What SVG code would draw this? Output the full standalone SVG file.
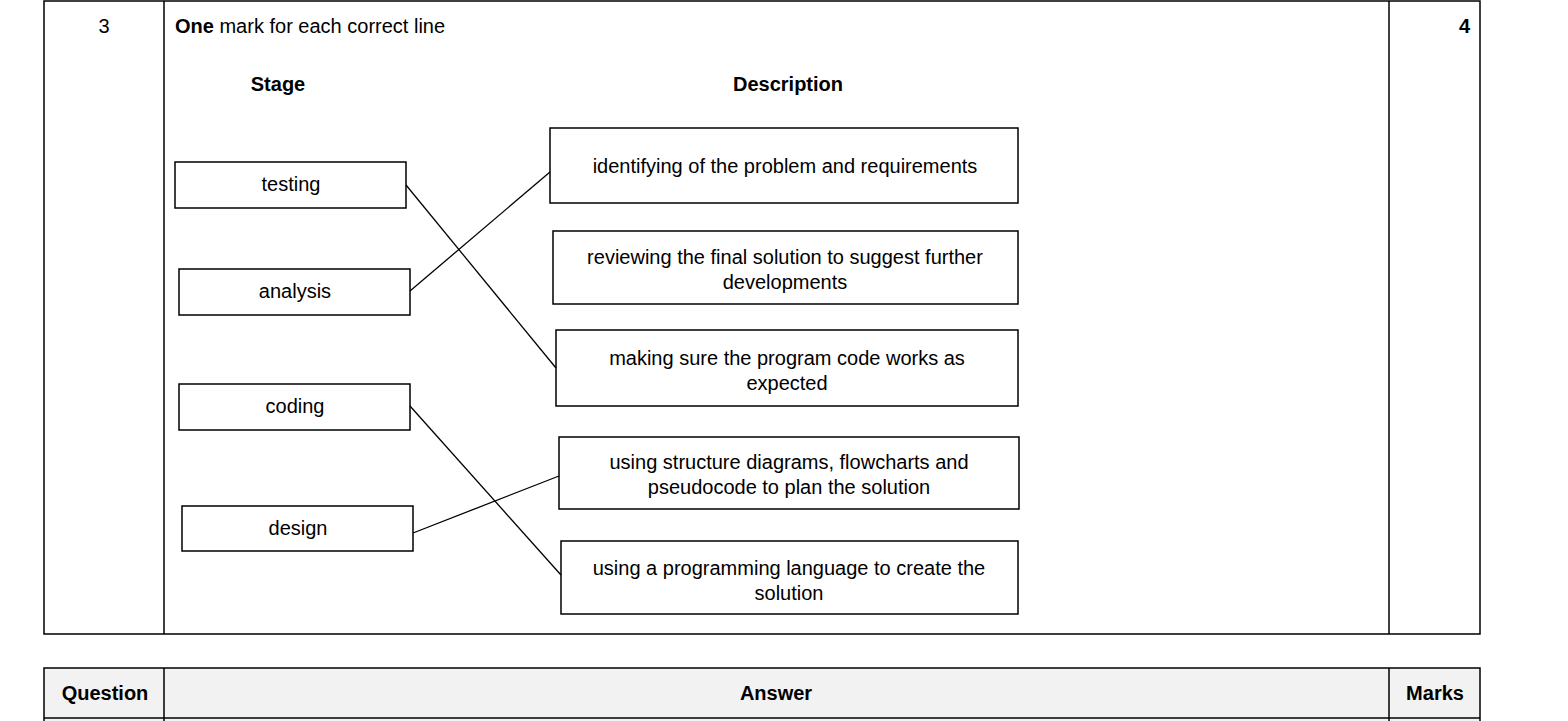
<svg xmlns="http://www.w3.org/2000/svg" width="1568" height="721" viewBox="0 0 1568 721">
<style>
text{font-family:"Liberation Sans",Arial,sans-serif;font-size:20px;fill:#000}
.b{font-weight:bold}
.box{fill:#fff;stroke:#000;stroke-width:1.5}
.grid{fill:none;stroke:#000;stroke-width:1.5}
.c line{stroke:#000;stroke-width:1.3}
</style>
<rect width="1568" height="721" fill="#fff"/>
<g id="table1">
<rect class="grid" x="44" y="1" width="1436" height="633"/>
<line class="grid" x1="164" y1="1" x2="164" y2="634"/>
<line class="grid" x1="1389" y1="1" x2="1389" y2="634"/>
<text x="104" y="33" text-anchor="middle">3</text>
<text x="175" y="33"><tspan class="b">One</tspan> mark for each correct line</text>
<text x="1470" y="33" text-anchor="end" class="b">4</text>
<text x="278" y="91" text-anchor="middle" class="b">Stage</text>
<text x="788" y="91" text-anchor="middle" class="b">Description</text>
</g>
<g id="table2">
<rect x="44" y="668" width="1436" height="60" fill="#f2f2f2" stroke="#000" stroke-width="1.5"/>
<line class="grid" x1="44" y1="718" x2="1480" y2="718"/>
<line class="grid" x1="164" y1="668" x2="164" y2="721"/>
<line class="grid" x1="1389" y1="668" x2="1389" y2="721"/>
<text x="105" y="700" text-anchor="middle" class="b">Question</text>
<text x="776" y="700" text-anchor="middle" class="b">Answer</text>
<text x="1435" y="700" text-anchor="middle" class="b">Marks</text>
</g>
<g id="testing"><rect class="box" x="175" y="162" width="231" height="46"/><text x="291" y="191" text-anchor="middle">testing</text></g>
<g id="analysis"><rect class="box" x="179" y="269" width="231" height="46"/><text x="295" y="298" text-anchor="middle">analysis</text></g>
<g id="coding"><rect class="box" x="179" y="384" width="231" height="46"/><text x="295" y="413" text-anchor="middle">coding</text></g>
<g id="design"><rect class="box" x="182" y="506" width="231" height="45"/><text x="298" y="535" text-anchor="middle">design</text></g>
<g id="d1"><rect class="box" x="550" y="128" width="468" height="75"/><text x="785" y="173" text-anchor="middle">identifying of the problem and requirements</text></g>
<g id="d2"><rect class="box" x="553" y="231" width="465" height="73"/><text x="785" y="264" text-anchor="middle">reviewing the final solution to suggest further</text><text x="785" y="289" text-anchor="middle">developments</text></g>
<g id="d3"><rect class="box" x="556" y="330" width="462" height="76"/><text x="787" y="365" text-anchor="middle">making sure the program code works as</text><text x="787" y="390" text-anchor="middle">expected</text></g>
<g id="d4"><rect class="box" x="559" y="437" width="460" height="72"/><text x="789" y="469" text-anchor="middle">using structure diagrams, flowcharts and</text><text x="789" y="494" text-anchor="middle">pseudocode to plan the solution</text></g>
<g id="d5"><rect class="box" x="561" y="541" width="457" height="73"/><text x="789" y="575" text-anchor="middle">using a programming language to create the</text><text x="789" y="600" text-anchor="middle">solution</text></g>
<g class="c" id="connectors">
<line x1="406" y1="185" x2="556" y2="368"/>
<line x1="410" y1="291" x2="550" y2="172"/>
<line x1="410" y1="406" x2="561" y2="575"/>
<line x1="413" y1="533" x2="559" y2="476"/>
</g>
</svg>
